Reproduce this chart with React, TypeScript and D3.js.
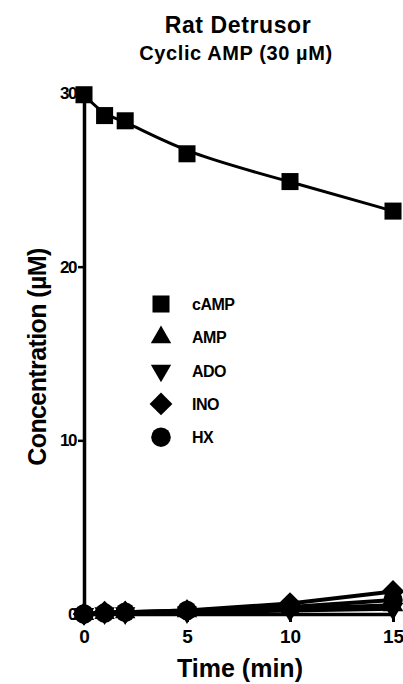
import { useEffect, useRef } from 'react';
import * as d3 from 'd3';

// ── Data ──
const TIMES = [0, 1, 2, 5, 10, 15];
const CAMP = [29.9, 28.7, 28.4, 26.5, 24.9, 23.2];
const AMP = [0, 0.05, 0.1, 0.15, 0.3, 0.5];
const ADO = [0, 0.05, 0.05, 0.1, 0.2, 0.3];
const INO = [0, 0.1, 0.1, 0.2, 0.6, 1.3];
const HX = [0, 0.05, 0.1, 0.2, 0.4, 0.8];
const SERIES_NAMES = ['cAMP', 'AMP', 'ADO', 'INO', 'HX'];
const X_TICKS = [0, 5, 10, 15];
const Y_TICKS = [0, 10, 20, 30];

const W = 403;
const H = 684;
const FONT = 'Arial, "Liberation Sans", sans-serif';

const SYMBOLS: Record<string, d3.SymbolType> = {
  cAMP: d3.symbolSquare,
  AMP: d3.symbolTriangle,
  ADO: d3.symbolTriangle,
  INO: d3.symbolSquare,
  HX: d3.symbolCircle,
};
const SIZES: Record<string, number> = { cAMP: 290, AMP: 180, ADO: 180, INO: 260, HX: 300 };
const ROTATE: Record<string, number> = { cAMP: 0, AMP: 0, ADO: 180, INO: 45, HX: 0 };

export default function App() {
  const svgRef = useRef<SVGSVGElement>(null);

  useEffect(() => {
    const svgEl = svgRef.current;
    if (!svgEl) return;
    const svg = d3.select(svgEl);
    svg.selectAll('*').remove();

    const x = d3.scaleLinear().domain([0, 15]).range([84, 393]);
    const y = d3.scaleLinear().domain([0, 30]).range([614, 93]);

    const allSeries: { name: string; values: number[] }[] = [
      { name: 'cAMP', values: CAMP },
      { name: 'AMP', values: AMP },
      { name: 'ADO', values: ADO },
      { name: 'INO', values: INO },
      { name: 'HX', values: HX },
    ];

    // titles
    svg.append('text').attr('x', 238).attr('y', 33).attr('text-anchor', 'middle')
      .attr('font-family', FONT).attr('font-weight', 700).attr('font-size', 23)
      .attr('letter-spacing', 0.6).text('Rat Detrusor');
    svg.append('text').attr('x', 236).attr('y', 60).attr('text-anchor', 'middle')
      .attr('font-family', FONT).attr('font-weight', 700).attr('font-size', 20)
      .attr('letter-spacing', 0.6).text('Cyclic AMP (30 µM)');

    // axes
    const yAxis = svg.append('g').attr('transform', `translate(${x(0)},0)`)
      .call(d3.axisLeft(y).tickValues(Y_TICKS).tickSize(6).tickSizeOuter(0).tickPadding(2));
    yAxis.select('.domain').attr('stroke', '#000').attr('stroke-width', 3.5);
    yAxis.selectAll('line').attr('stroke', '#000').attr('stroke-width', 2.5);
    yAxis.selectAll('text').attr('font-family', FONT).attr('font-weight', 700)
      .attr('font-size', 17).attr('fill', '#000').attr('letter-spacing', -1.5);

    const xAxis = svg.append('g').attr('transform', `translate(0,${y(0)})`)
      .call(d3.axisBottom(x).tickValues(X_TICKS).tickSize(8).tickSizeOuter(0).tickPadding(8));
    xAxis.select('.domain').attr('stroke', '#000').attr('stroke-width', 3.5);
    xAxis.selectAll('line').attr('stroke', '#000').attr('stroke-width', 3);
    xAxis.selectAll('text').attr('font-family', FONT).attr('font-weight', 700)
      .attr('font-size', 19).attr('fill', '#000');

    // axis labels
    svg.append('text').attr('x', 240).attr('y', 677).attr('text-anchor', 'middle')
      .attr('font-family', FONT).attr('font-weight', 700).attr('font-size', 25)
      .text('Time (min)');
    svg.append('text').attr('transform', `translate(46,357) rotate(-90)`)
      .attr('text-anchor', 'middle').attr('font-family', FONT).attr('font-weight', 700)
      .attr('font-size', 25).attr('letter-spacing', -0.6).text('Concentration (µM)');

    // lines
    allSeries.forEach((s) => {
      const line = d3.line<number>()
        .x((_, i) => x(TIMES[i]))
        .y((d) => y(d))
        .curve(s.name === 'cAMP' ? d3.curveBasis : d3.curveLinear);
      svg.append('path').datum(s.values).attr('d', line)
        .attr('fill', 'none').attr('stroke', '#000')
        .attr('stroke-width', s.name === 'cAMP' ? 3 : 4);
    });

    // markers
    allSeries.forEach((s) => {
      const sym = d3.symbol().type(SYMBOLS[s.name]).size(SIZES[s.name]);
      svg.append('g').selectAll('path').data(s.values).enter().append('path')
        .attr('d', sym)
        .attr('transform', (d, i) =>
          `translate(${x(TIMES[i])},${y(d)}) rotate(${ROTATE[s.name]})`)
        .attr('fill', '#000');
    });

    // legend
    const legend = svg.append('g').attr('transform', 'translate(161,304)');
    SERIES_NAMES.forEach((name, i) => {
      const row = legend.append('g').attr('transform', `translate(0,${i * 33.3})`);
      row.append('path')
        .attr('d', d3.symbol().type(SYMBOLS[name]).size(SIZES[name])())
        .attr('transform', `rotate(${ROTATE[name]})`)
        .attr('fill', '#000');
      row.append('text').attr('x', 31).attr('y', 6)
        .attr('font-family', FONT).attr('font-weight', 700).attr('font-size', 16)
        .attr('letter-spacing', -0.5).text(name);
    });
  }, []);

  return (
    <svg
      ref={svgRef}
      width={W}
      height={H}
      style={{ position: 'absolute', left: 0, top: 0, background: '#fff' }}
    />
  );
}
